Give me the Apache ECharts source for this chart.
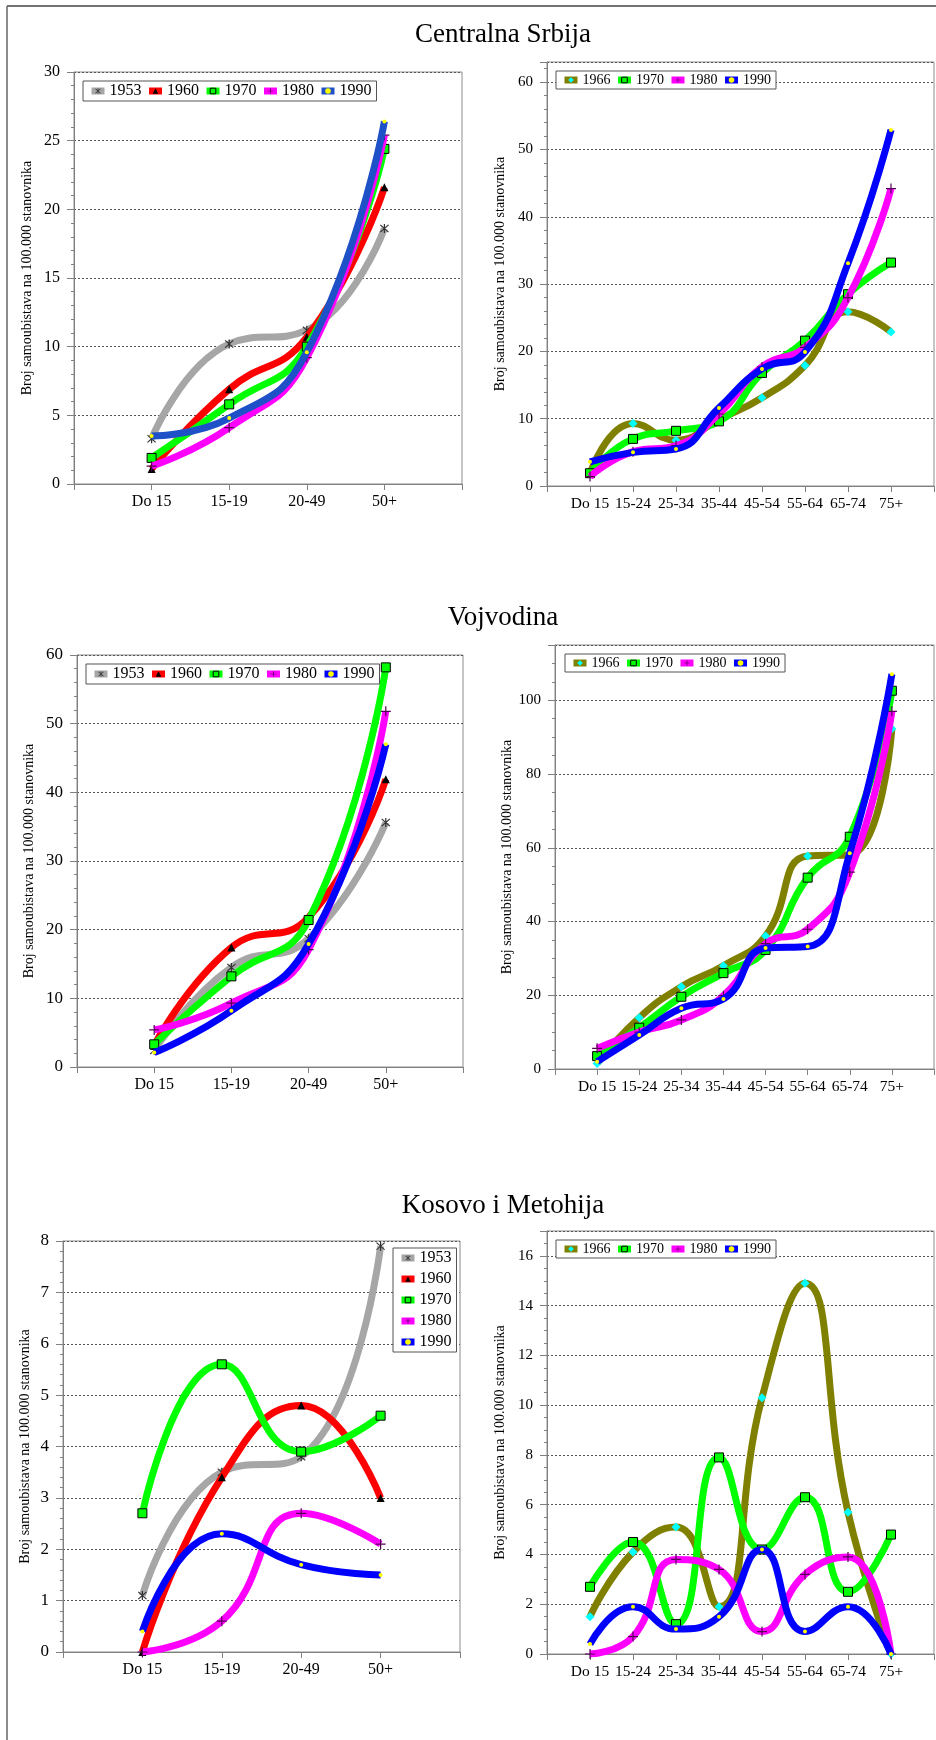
<!DOCTYPE html>
<html>
<head>
<meta charset="utf-8">
<script src="https://cdn.jsdelivr.net/npm/echarts@6.0.0/dist/echarts.min.js"></script>
<style>
html, body { margin: 0; padding: 0; background: #fff; }
#chart { width: 936px; height: 1740px; }
</style>
</head>
<body>
<div id="chart"></div>
<script>
// kategorije
var cat4 = ['Do 15', '15-19', '20-49', '50+'];
var cat8 = ['Do 15', '15-24', '25-34', '35-44', '45-54', '55-64', '65-74', '75+'];

// Centralna Srbija
var cs4_1953 = [3.3, 10.2, 11.2, 18.6];
var cs4_1960 = [1.1, 6.9, 10.7, 21.6];
var cs4_1970 = [1.9, 5.8, 10.0, 24.4];
var cs4_1980 = [1.3, 4.1, 9.2, 25.4];
var cs4_1990 = [3.5, 4.8, 9.6, 26.4];

var cs8_1966 = [1.9, 9.3, 6.8, 9.9, 13.1, 17.9, 25.9, 22.9];
var cs8_1970 = [1.9, 7.0, 8.2, 9.6, 16.8, 21.6, 28.5, 33.2];
var cs8_1980 = [1.4, 5.1, 6.0, 10.7, 17.7, 20.6, 28.0, 44.2];
var cs8_1990 = [3.6, 5.0, 5.5, 11.6, 17.4, 19.9, 33.1, 52.9];

// Vojvodina
var vo4_1953 = [2.4, 14.5, 18.7, 35.6];
var vo4_1960 = [3.1, 17.4, 21.8, 41.9];
var vo4_1970 = [3.3, 13.2, 21.4, 58.2];
var vo4_1980 = [5.4, 9.3, 17.1, 51.8];
var vo4_1990 = [2.1, 8.2, 17.9, 47.0];

var vo8_1966 = [1.5, 13.9, 22.3, 28.0, 36.1, 57.8, 58.1, 92.3];
var vo8_1970 = [3.5, 11.2, 19.6, 26.0, 32.3, 51.9, 63.0, 102.6];
var vo8_1980 = [5.6, 10.0, 13.3, 19.9, 34.0, 37.9, 53.4, 97.0];
var vo8_1990 = [2.0, 9.2, 16.5, 19.0, 32.8, 33.2, 58.5, 107.1];

// Kosovo i Metohija
var ko4_1953 = [1.1, 3.5, 3.8, 7.9];
var ko4_1960 = [0.0, 3.4, 4.8, 3.0];
var ko4_1970 = [2.7, 5.6, 3.9, 4.6];
var ko4_1980 = [0.0, 0.6, 2.7, 2.1];
var ko4_1990 = [0.4, 2.3, 1.7, 1.5];

var ko8_1966 = [1.5, 4.1, 5.1, 1.9, 10.3, 14.9, 5.7, 0.0];
var ko8_1970 = [2.7, 4.5, 1.2, 7.9, 4.2, 6.3, 2.5, 4.8];
var ko8_1980 = [0.0, 0.7, 3.8, 3.4, 0.9, 3.2, 3.9, 0.0];
var ko8_1990 = [0.4, 1.9, 1.0, 1.5, 4.2, 0.9, 1.9, 0.0];

var yName = 'Broj samoubistava na 100.000 stanovnika';
var serif = 'Liberation Serif';

var STAR = 'path://M4.4,0H5.6V10H4.4Z M0.6,1.4L1.4,0.6L9.4,8.6L8.6,9.4Z M8.6,0.6L9.4,1.4L1.4,9.4L0.6,8.6Z';
var PLUS = 'path://M4.4,0H5.6V10H4.4Z M0,4.4H10V5.6H0Z';

var styles = {
  '1953': { line: '#a6a6a6', mark: '#333333', symbol: STAR, size: 9 },
  '1960': { line: '#ff0000', mark: '#000000', symbol: 'triangle', size: 8 },
  '1966': { line: '#808000', mark: '#00ffff', symbol: 'diamond', size: 9 },
  '1970': { line: '#00ff00', mark: '#00ff00', symbol: 'rect', size: 9, border: '#000' },
  '1980': { line: '#ff00ff', mark: '#550055', symbol: PLUS, size: 10 },
  '1990': { line: '#0000ff', mark: '#ffff00', symbol: 'circle', size: 4 },
  '1990b': { line: '#1e50c8', mark: '#ffff00', symbol: 'circle', size: 4 }
};

var panels = [
  { box: { left: 74, top: 72, width: 388, height: 412 }, cats: cat4, max: 30, step: 5, minor: 5,
    yfs: 16, xfs: 16, nameGap: 40,
    legend: { left: 83, top: 81, orient: 'horizontal', itemGap: 4, fs: 16 },
    series: [['1953', cs4_1953], ['1960', cs4_1960], ['1970', cs4_1970], ['1980', cs4_1980], ['1990', cs4_1990, '1990b']] },
  { box: { left: 547, top: 62, width: 387, height: 424 }, cats: cat8, max: 63, step: 10, minor: 5,
    yfs: 15, xfs: 15.5, nameGap: 40,
    legend: { left: 556, top: 71, orient: 'horizontal', itemGap: 4, fs: 14 },
    series: [['1966', cs8_1966], ['1970', cs8_1970], ['1980', cs8_1980], ['1990', cs8_1990]] },
  { box: { left: 77, top: 655, width: 386, height: 412 }, cats: cat4, max: 60, step: 10, minor: 5,
    yfs: 17, xfs: 16, nameGap: 41,
    legend: { left: 86, top: 664, orient: 'horizontal', itemGap: 4, fs: 16 },
    series: [['1953', vo4_1953], ['1960', vo4_1960], ['1970', vo4_1970], ['1980', vo4_1980], ['1990', vo4_1990]] },
  { box: { left: 555, top: 645, width: 379, height: 424 }, cats: cat8, max: 115, step: 20, minor: 4,
    yfs: 15, xfs: 15.5, nameGap: 40,
    legend: { left: 565, top: 654, orient: 'horizontal', itemGap: 4, fs: 14 },
    series: [['1966', vo8_1966], ['1970', vo8_1970], ['1980', vo8_1980], ['1990', vo8_1990]] },
  { box: { left: 63, top: 1241, width: 397, height: 411 }, cats: cat4, max: 8, step: 1, minor: 5,
    yfs: 17, xfs: 16, nameGap: 31,
    legend: { left: 393, top: 1248, orient: 'vertical', itemGap: 5, fs: 16 },
    series: [['1953', ko4_1953], ['1960', ko4_1960], ['1970', ko4_1970], ['1980', ko4_1980], ['1990', ko4_1990]] },
  { box: { left: 547, top: 1231, width: 387, height: 423 }, cats: cat8, max: 17, step: 2, minor: 4,
    yfs: 15, xfs: 15.5, nameGap: 40,
    legend: { left: 556, top: 1240, orient: 'horizontal', itemGap: 4, fs: 14 },
    series: [['1966', ko8_1966], ['1970', ko8_1970], ['1980', ko8_1980], ['1990', ko8_1990]] }
];

var titles = [
  { text: 'Centralna Srbija', y: 35 },
  { text: 'Vojvodina', y: 618 },
  { text: 'Kosovo i Metohija', y: 1206 }
];

var option = {
  animation: false,
  backgroundColor: '#fff',
  grid: [], xAxis: [], yAxis: [], legend: [], series: [],
  graphic: [
    { type: 'line', shape: { x1: 7, y1: 6, x2: 936, y2: 6 }, style: { stroke: '#444', lineWidth: 1.5 } },
    { type: 'line', shape: { x1: 7, y1: 6, x2: 7, y2: 1740 }, style: { stroke: '#666', lineWidth: 1.5 } }
  ]
};

titles.forEach(function (t) {
  option.graphic.push({
    type: 'text', x: 503, y: t.y,
    style: { text: t.text, fill: '#000', font: '27px "Liberation Serif"', textAlign: 'center', textVerticalAlign: 'middle' }
  });
});

panels.forEach(function (p, i) {
  option.grid.push(Object.assign({
    show: true, borderColor: '#8c8c8c', borderWidth: 1, backgroundColor: 'transparent',
    containLabel: false, outerBoundsMode: 'none'
  }, p.box));

  option.xAxis.push({
    type: 'category', gridIndex: i, boundaryGap: false,
    data: [''].concat(p.cats, ['']),
    axisLine: { show: true, lineStyle: { color: '#808080', width: 1 } },
    axisTick: { show: true, length: 6, lineStyle: { color: '#808080' } },
    axisLabel: { interval: 0, color: '#000', fontFamily: serif, fontSize: p.xfs, margin: 10 },
    splitLine: { show: false }
  });

  option.yAxis.push({
    type: 'value', gridIndex: i, min: 0, max: p.max, interval: p.step,
    name: yName, nameLocation: 'middle', nameGap: p.nameGap, nameRotate: 90,
    nameTextStyle: { color: '#000', fontFamily: serif, fontSize: 14 },
    axisLine: { show: true, lineStyle: { color: '#808080', width: 1 } },
    axisTick: { show: true, length: 7, lineStyle: { color: '#808080' } },
    minorTick: { show: true, splitNumber: p.minor, length: 3, lineStyle: { color: '#808080' } },
    axisLabel: { color: '#000', fontFamily: serif, fontSize: p.yfs, margin: 14, showMaxLabel: p.max % p.step === 0 },
    splitLine: { show: true, lineStyle: { color: '#555', width: 1, type: [2, 2] } }
  });

  var legendItems = [];
  p.series.forEach(function (s, k) {
    var st = styles[s[2] || s[0]];
    option.series.push({
      type: 'line', name: s[0], xAxisIndex: i, yAxisIndex: i,
      data: [null].concat(s[1], [null]),
      smooth: 0.5, showAllSymbol: true, connectNulls: false,
      symbol: st.symbol, symbolSize: st.size,
      lineStyle: { color: st.line, width: 7 },
      itemStyle: { color: st.mark, borderColor: st.border || st.mark, borderWidth: st.border ? 1 : 0 },
      emphasis: { disabled: true },
      z: 2 + k
    });
    legendItems.push({
      name: s[0],
      lineStyle: { color: st.line, width: 7 },
      itemStyle: { color: st.mark, borderColor: st.border || st.mark, borderWidth: st.border ? 1 : 0 }
    });
  });

  option.legend.push({
    left: p.legend.left, top: p.legend.top, orient: p.legend.orient,
    itemGap: p.legend.itemGap, itemWidth: 13, itemHeight: 7,
    padding: [2, 5, 2, 5], borderColor: '#555', borderWidth: 1, backgroundColor: '#fff',
    selectedMode: false, z: 10,
    lineStyle: { width: 7 },
    textStyle: { color: '#000', fontFamily: serif, fontSize: p.legend.fs },
    data: legendItems
  });
});

var chart = echarts.init(document.getElementById('chart'));
chart.setOption(option);
</script>
</body>
</html>
